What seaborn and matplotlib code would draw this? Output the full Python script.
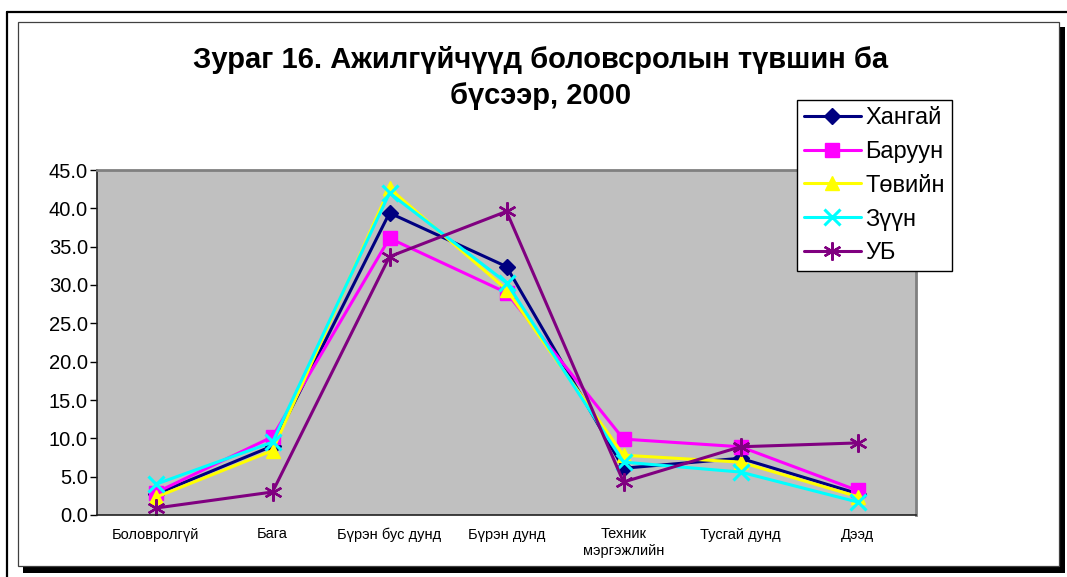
import matplotlib
matplotlib.use("Agg")
import matplotlib.pyplot as plt
from matplotlib.patches import Rectangle
from matplotlib.lines import Line2D
import seaborn as sns
import pandas as pd

categories = ["Боловролгүй", "Бага", "Бүрэн бус дунд", "Бүрэн дунд",
              "Техник\nмэргэжлийн", "Тусгай дунд", "Дээд"]
series_names = ["Хангай", "Баруун", "Төвийн", "Зүүн", "УБ"]
khangai = [2.7, 9.0, 39.4, 32.4, 6.1, 7.4, 2.8]
baruun = [2.9, 10.2, 36.1, 29.0, 9.9, 8.9, 3.2]
tuviin = [2.3, 8.4, 42.6, 29.4, 7.8, 6.9, 2.4]
zuun = [4.0, 9.5, 42.0, 30.3, 6.9, 5.6, 1.7]
ub = [0.9, 3.0, 33.7, 39.6, 4.3, 8.9, 9.4]
y_ticks = [0, 5, 10, 15, 20, 25, 30, 35, 40, 45]

values = [khangai, baruun, tuviin, zuun, ub]
colors = ["#000080", "#FF00FF", "#FFFF00", "#00FFFF", "#800080"]
markers = ["D", "s", "^", "x", (6, 2, 0)]
msizes = [8.5, 10, 10, 11, 13]
mews = [1, 1, 1, 2.2, 1.7]

sns.set_style("white")
plt.rcParams["font.family"] = ["Liberation Sans", "DejaVu Sans"]
plt.rcParams["text.color"] = "black"
plt.rcParams["xtick.color"] = "black"
plt.rcParams["ytick.color"] = "black"
plt.rcParams["axes.labelcolor"] = "black"

W, H = 1067, 577
fig = plt.figure(figsize=(W / 100, H / 100), dpi=100)

def fx(px):
    return px / W

def fy(py):
    return 1 - py / H

# outer open frame
fig.add_artist(Line2D([fx(7), fx(1067)], [fy(11.5), fy(11.5)], color="black", lw=1.6,
                      transform=fig.transFigure))
fig.add_artist(Line2D([fx(7), fx(7)], [fy(11.5), fy(577)], color="black", lw=1.6,
                      transform=fig.transFigure))
# shadow
fig.add_artist(Rectangle((fx(23), fy(573)), fx(1065) - fx(23), fy(27) - fy(573),
                         facecolor="black", edgecolor="none", transform=fig.transFigure, zorder=0))
# chart box
fig.add_artist(Rectangle((fx(18), fy(566)), fx(1059) - fx(18), fy(22) - fy(566),
                         facecolor="white", edgecolor="#404040", lw=0.9,
                         transform=fig.transFigure, zorder=0.5))

ax = fig.add_axes([fx(97), fy(515), fx(916) - fx(97), fy(170) - fy(515)])
ax.set_facecolor("#C0C0C0")
ax.set_zorder(2)

x_idx = list(range(len(categories)))
for name, vals, c, m, ms, mew in zip(series_names, values, colors, markers, msizes, mews):
    df = pd.DataFrame({"x": x_idx, "y": vals})
    sns.lineplot(data=df, x="x", y="y", ax=ax, color=c, marker=m, markersize=ms,
                 markeredgewidth=mew, markeredgecolor=c, markerfacecolor=c,
                 linewidth=2.2, label=name, sort=False)

ax.set_xlim(-0.5, len(categories) - 0.5)
ax.set_ylim(0, 45)
ax.set_yticks(y_ticks)
ax.set_yticklabels([f"{v:.1f}" for v in y_ticks], fontsize=14.5)
ax.set_xticks(x_idx)
ax.set_xticklabels(categories, fontsize=10.5)
ax.set_xticks([i + 0.5 for i in range(-1, len(categories))], minor=True)
ax.tick_params(axis="x", which="major", length=0, pad=9)
ax.tick_params(axis="x", which="minor", length=5, width=1, color="black", direction="out")
ax.tick_params(axis="y", which="major", length=5, width=1, color="black", direction="out",
               left=True, pad=1.5)
ax.set_xlabel("")
ax.set_ylabel("")
for s in ["top", "right"]:
    ax.spines[s].set_color("#808080")
    ax.spines[s].set_linewidth(2)
for s in ["left", "bottom"]:
    ax.spines[s].set_color("#202020")
    ax.spines[s].set_linewidth(1.2)

handles, labels = ax.get_legend_handles_labels()
ax.get_legend().remove()
leg = fig.legend(handles, labels, loc="upper left", bbox_to_anchor=(fx(797), fy(100)),
                 frameon=True, fancybox=False, edgecolor="black", facecolor="white",
                 framealpha=1, fontsize=17,
                 handlelength=2.4, handletextpad=0.2, labelspacing=0.5,
                 borderpad=0.3, borderaxespad=0)
leg.get_frame().set_linewidth(1.0)
leg.set_zorder(5)

fig.text(fx(541), fy(78), "Зураг 16. Ажилгүйчүүд боловсролын түвшин ба\nбүсээр, 2000",
         ha="center", va="center", fontsize=21, fontweight="bold", linespacing=1.4,
         multialignment="center", color="black")

fig.savefig("out.png", dpi=100)
